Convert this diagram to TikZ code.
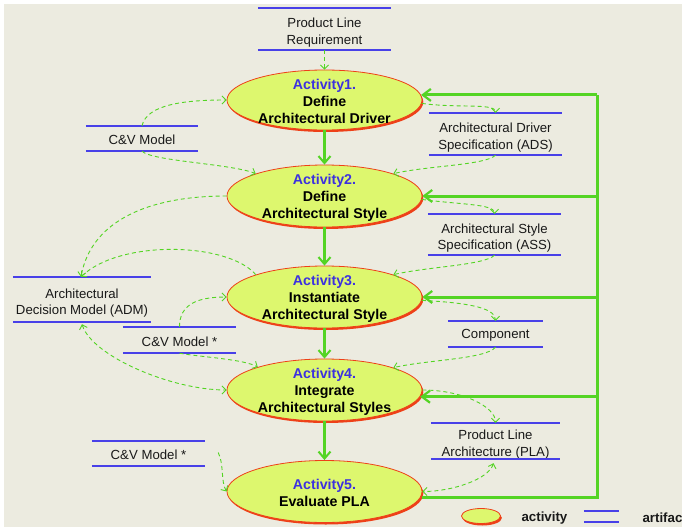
\documentclass[tikz,border=0pt]{standalone}
\usepackage{fontspec}
\setmainfont{Liberation Sans}
\usetikzlibrary{arrows.meta,shapes.geometric,shadows,calc}
\definecolor{bgc}{RGB}{236,235,224}
\definecolor{actfill}{RGB}{221,247,110}
\definecolor{actred}{RGB}{238,64,24}
\definecolor{artblue}{RGB}{72,64,232}
\definecolor{actblue}{RGB}{60,48,224}
\definecolor{grn}{RGB}{84,212,36}
\definecolor{txt}{RGB}{25,25,25}
\tikzset{
  act/.style={ellipse, draw=actred, line width=0.8pt, fill=actfill,
    minimum width=195pt, minimum height=62pt, inner sep=0pt,
    drop shadow={shadow xshift=1.3pt, shadow yshift=-2pt, fill=actred, opacity=1}},
  lbl/.style={align=center, text=black, yshift=-1.5pt, font=\fontsize{14.2}{17}\selectfont\bfseries},
  art/.style={inner sep=0pt},
  artt/.style={align=center, inner sep=0pt, text=txt, font=\fontsize{13.2}{16.5}\selectfont},
  arttwo/.style={artt, yshift=-3.5pt},
  artone/.style={artt, yshift=-1.5pt},
  artline/.style={draw=artblue, line width=2pt},
  dsh/.style={draw=grn, line width=0.9pt, dash pattern=on 4pt off 3pt,
    -{Straight Barb[length=4pt,width=8pt,line width=0.9pt]}},
  dshd/.style={dsh, {Straight Barb[length=4pt,width=8pt,line width=0.9pt]}-{Straight Barb[length=4pt,width=8pt,line width=0.9pt]}},
  flow/.style={draw=grn, line width=2.6pt, -{Straight Barb[length=7pt,width=12pt,line width=2pt]}},
  fbl/.style={draw=grn, line width=3pt, line join=miter},
  fb/.style={draw=grn, line width=3pt, -{Straight Barb[length=8pt,width=12pt,line width=2.2pt]}},
  leg/.style={anchor=west, text=txt, font=\fontsize{13.3}{16}\selectfont\bfseries}
}
\begin{document}
\begin{tikzpicture}[x=1pt,y=-1pt]
\useasboundingbox (0,0) rectangle (682,527);
\fill[bgc] (4,4) rectangle (682,527);

% activities
\node[act, minimum height=60pt] (A1) at (324.5,100) [label={[lbl]center:{\textcolor{actblue}{Activity1.}\\Define\\Architectural Driver}}] {};
\node[act] (A2) at (324.5,196) [label={[lbl]center:{\textcolor{actblue}{Activity2.}\\Define\\Architectural Style}}] {};
\node[act] (A3) at (324.5,297) [label={[lbl]center:{\textcolor{actblue}{Activity3.}\\Instantiate\\Architectural Style}}] {};
\node[act] (A4) at (324.5,390) [label={[lbl]center:{\textcolor{actblue}{Activity4.}\\Integrate\\Architectural Styles}}] {};
\node[act] (A5) at (324.5,491.5) [label={[lbl]center:{\textcolor{actblue}{Activity5.}\\Evaluate PLA}}] {};

% artifacts
\node[art, minimum width=133pt, minimum height=42pt, label={[arttwo]center:{Product Line\\Requirement}}] (PLR) at (324.5,29) {};
\node[art, minimum width=112pt, minimum height=25pt, label={[artone]center:{C\&V Model}}] (CV1) at (142,138.5) {};
\node[art, minimum width=133pt, minimum height=42pt, label={[arttwo]center:{Architectural Driver\\Specification (ADS)}}] (ADS) at (495.5,134) {};
\node[art, minimum width=133pt, minimum height=41pt, label={[arttwo]center:{Architectural Style\\Specification (ASS)}}] (ASS) at (494.5,234.5) {};
\node[art, minimum width=95pt, minimum height=26pt, label={[artone]center:{Component}}] (COMP) at (495.5,334) {};
\node[art, minimum width=129pt, minimum height=36pt, label={[arttwo]center:{Product Line\\Architecture (PLA)}}] (PLA) at (495.5,441) {};
\node[art, minimum width=138pt, minimum height=45pt, label={[arttwo]center:{Architectural\\Decision Model (ADM)}}] (ADM) at (82,299.5) {};
\node[art, minimum width=113pt, minimum height=26pt, label={[artone]center:{C\&V Model *}}] (CV2) at (179.5,340) {};
\node[art, minimum width=113pt, minimum height=25pt, label={[artone]center:{C\&V Model *}}] (CV3) at (148.5,453.5) {};

% legend
\node[act, minimum width=39pt, minimum height=15pt,
  drop shadow={shadow xshift=1pt, shadow yshift=-1.5pt, fill=actred, opacity=1}] (LA) at (481,516) {};
\node[leg] (LAt) at (518,518) {activity};
\node[art, minimum width=35pt, minimum height=11pt] (LR) at (601.5,516.5) {};
\node[leg] (LRt) at (639,518) {artifact};

\foreach \n in {PLR,CV1,ADS,ASS,COMP,PLA,ADM,CV2,CV3,LR}
  \draw[artline] (\n.north west) -- (\n.north east) (\n.south west) -- (\n.south east);

% main flow
\draw[flow] (A1) -- (A2);
\draw[flow] (A2) -- (A3);
\draw[flow] (A3) -- (A4);
\draw[flow] (A4) -- (A5);

% feedback
\coordinate (Rb) at (597,497);
\draw[fbl] (Rb -| A5.east) -- (Rb) -- (Rb |- A1.3);
\foreach \a in {A1.3, A2.east, A3.east, A4.-4}
  \draw[fb] (Rb |- \a) -- (\a);

% dashed artifact flows
\coordinate (ADMt) at ($(ADM.north)+(-1,0)$);
\coordinate (c3) at ($(CV3.east)+(13,-1)$);
\draw[dsh] (PLR.south) -- (A1.north);
\draw[dsh] (CV1.north) .. controls +(5,-22) and +(-40,0) .. (A1.west);
\draw[dsh] (CV1.south) .. controls +(10,10) and +(-25,-10) .. (A2.162);
\draw[dsh] (A1.-2) .. controls +(35,5) and +(0,-10) .. (ADS.north);
\draw[dsh] (ADS.south) .. controls +(-10,10) and +(35,-8) .. (A2.18);
\draw[dsh] (A2.-2) .. controls +(35,5) and +(0,-10) .. (ASS.north);
\draw[dsh] (ASS.south) .. controls +(-10,10) and +(35,-8) .. (A3.18);
\draw[dsh] (A3.-2) .. controls +(40,2) and +(0,-14) .. (COMP.north);
\draw[dsh] (COMP.south) .. controls +(-10,12) and +(35,-8) .. (A4.18);
\draw[dsh] (A4.east) .. controls +(40,0) and +(0,-16) .. (PLA.north);
\draw[dshd] ($(PLA.south)+(-2,4)$) .. controls +(-5,16) and +(30,0) .. (A5.east);
\draw[dsh] (A2.west) .. controls +(-80,0) and +(10,-55) .. (ADMt);
\draw[dsh] (A3.162) .. controls +(-27,-32) and +(40,-38) .. (ADMt);
\draw[dshd] ($(ADM.south)+(0,2)$) .. controls +(10,32) and +(-55,0) .. (A4.west);
\draw[dsh] (CV2.north) .. controls +(0,-22) and +(-30,0) .. (A3.west);
\draw[dsh] (CV2.south) .. controls +(22,4) and +(-15,-8) .. (A4.161);
\draw[dsh] (c3) .. controls +(6,12) and +(-6,-10) .. (A5.west);
\end{tikzpicture}
\end{document}
